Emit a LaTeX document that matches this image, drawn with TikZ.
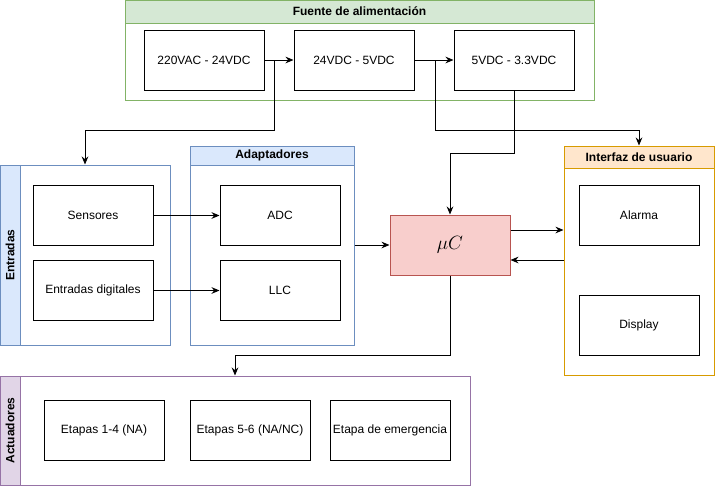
\documentclass[tikz,border=0pt]{standalone}
\usepackage{fontspec}
\setmainfont{Liberation Sans}
\usetikzlibrary{arrows.meta}

\definecolor{grnfill}{HTML}{D5E8D4}
\definecolor{grnline}{HTML}{82B366}
\definecolor{bluefill}{HTML}{DAE8FC}
\definecolor{blueline}{HTML}{6C8EBF}
\definecolor{redfill}{HTML}{F8CECC}
\definecolor{redline}{HTML}{B85450}
\definecolor{orgfill}{HTML}{FFE6CC}
\definecolor{orgline}{HTML}{D79B00}
\definecolor{purfill}{HTML}{E1D5E7}
\definecolor{purline}{HTML}{9673A6}

\begin{document}
\begin{tikzpicture}[x=0.75pt, y=-0.75pt, line width=0.75pt,
    font=\fontsize{9}{11}\selectfont,
    blk/.style={draw, rectangle, inner sep=0pt, minimum width=90pt, minimum height=45pt},
    grp/.style 2 args={draw, rectangle, inner sep=0pt, minimum width=#1*0.75pt, minimum height=#2*0.75pt},
    hdr/.style={font=\fontsize{9}{11}\selectfont\bfseries},
    arr/.style={-{Stealth[length=6pt, width=5pt]}}]

    \useasboundingbox (0,0) rectangle (715,486);

    % Fuente de alimentacion
    \node[grp={469}{100}, draw=grnline] (fue) at (359.5,50) {};
    \node[grp={469}{23}, draw=grnline, fill=grnfill, hdr] (fueh) at (359.5,11.5) {Fuente de alimentaci\'on};
    \node[blk] (a220) at (204,60) {220VAC - 24VDC};
    \node[blk] (a24) at (354,60) {24VDC - 5VDC};
    \node[blk] (a5) at (514,60) {5VDC - 3.3VDC};

    % Entradas
    \node[grp={170}{180}, draw=blueline] (ent) at (85,255) {};
    \node[grp={20}{180}, draw=blueline, fill=bluefill] (enth) at (10,255) {};
    \node[hdr, rotate=90] at (enth) {Entradas};
    \node[blk] (sen) at (93,215.5) {Sensores};
    \node[blk] (dig) at (93,290.5) {Entradas digitales};

    % Adaptadores
    \node[grp={164}{199}, draw=blueline] (ada) at (272,245.5) {};
    \node[grp={164}{19}, draw=blueline, fill=bluefill, hdr] (adah) at (272,155.5) {Adaptadores};
    \node[blk] (adc) at (280,215.5) {ADC};
    \node[blk] (llc) at (280,290.5) {LLC};

    % Microcontrolador
    \node[blk, draw=redline, fill=redfill, font=\Large] (uc) at (450,245) {$\mu C$};

    % Interfaz de usuario
    \node[grp={150}{229}, draw=orgline] (iu) at (639,260.5) {};
    \node[grp={150}{22}, draw=orgline, fill=orgfill, hdr] (iuh) at (639,157) {Interfaz de usuario};
    \node[blk] (alm) at (639,215) {Alarma};
    \node[blk] (dsp) at (639,325) {Display};

    % Actuadores
    \node[grp={470}{109}, draw=purline] (act) at (235,430.5) {};
    \node[grp={20}{109}, draw=purline, fill=purfill] (acth) at (10,430.5) {};
    \node[hdr, rotate=90] at (acth) {Actuadores};
    \node[blk] (e14) at (104,430) {Etapas 1-4 (NA)};
    \node[blk] (e56) at (250,430) {Etapas 5-6 (NA/NC)};
    \node[blk] (eme) at (390,430) {Etapa de emergencia};

    % Conexiones
    \coordinate (j1) at (274,60);
    \coordinate (j2) at (435,60);
    \draw[arr] (a220) -- (a24);
    \draw[arr] (a24) -- (a5);
    \draw[arr] (j1) -- (274,130) -| (ent.north);
    \draw[arr] (j2) -- (435,130) -| (iu.north);
    \draw[arr] (a5.south) -- (a5.south |- 0,153) -| (uc.north);
    \draw[arr] (sen) -- (adc);
    \draw[arr] (dig) -- (llc);
    \draw[arr] (ada.east |- uc.west) -- (uc.west);
    \draw[arr] ([yshift=11.25pt]uc.east) -- ([yshift=11.25pt]uc.east -| iu.west);
    \draw[arr] ([yshift=-11.25pt]uc.east -| iu.west) -- ([yshift=-11.25pt]uc.east);
    \draw[arr] (uc.south) -- (450,355) -| (act.north);

\end{tikzpicture}
\end{document}
